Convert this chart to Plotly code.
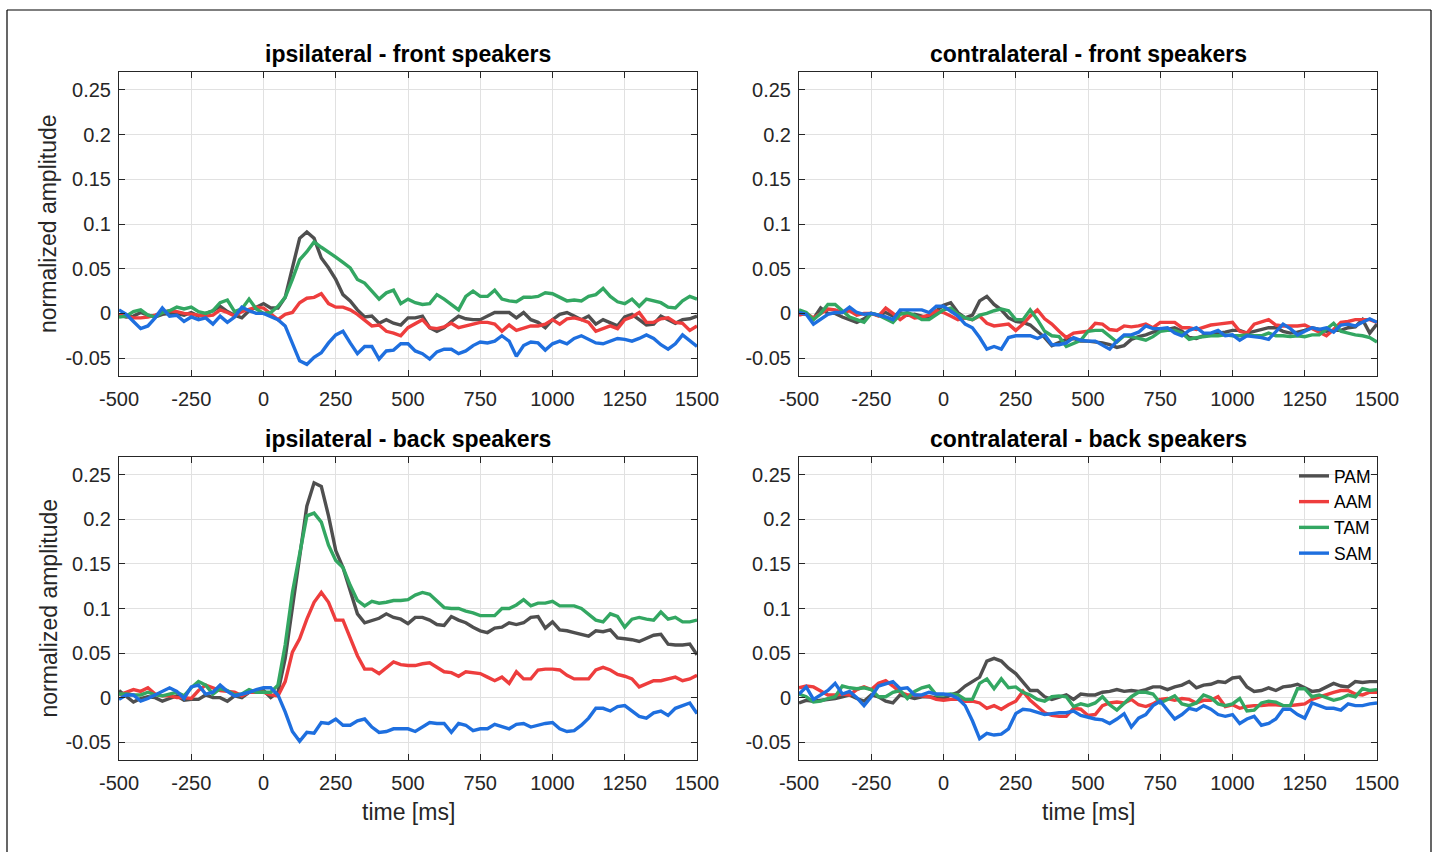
import plotly.graph_objects as go

W, H = 1436, 852

# time axis: -500 .. 1500 ms in 25 ms steps
t_ms = list(range(-500, 1501, 25))

conditions = ["PAM", "AAM", "TAM", "SAM"]
colors = {"PAM": "#4f4f4f", "AAM": "#ee3d3d", "TAM": "#33a762", "SAM": "#1e6fdf"}

panel_titles = [
    "ipsilateral - front speakers",
    "contralateral - front speakers",
    "ipsilateral - back speakers",
    "contralateral - back speakers",
]

# ipsilateral - front speakers
ipsi_front_PAM = [-0.002,-0.004,-0.003,0.001,-0.002,-0.004,-0.001,0,0,-0.002,0.001,-0.003,0,0.003,0.008,0.002,-0.002,-0.005,0.003,0.007,0.011,0.006,0.006,0.018,0.053,0.084,0.091,0.084,0.062,0.051,0.038,0.021,0.014,0.004,-0.004,-0.003,-0.011,-0.007,-0.011,-0.013,
                  -0.005,-0.005,-0.003,-0.016,-0.02,-0.016,-0.009,-0.003,-0.006,-0.007,-0.007,-0.003,0.001,0.001,0.001,-0.005,0.001,-0.007,-0.01,-0.016,-0.007,-0.001,0.001,-0.003,-0.007,-0.003,-0.012,-0.007,-0.01,-0.014,-0.004,-0.001,-0.007,-0.013,-0.012,-0.003,-0.007,-0.011,-0.007,-0.006,-0.003]
ipsi_front_AAM = [-0.002,-0.003,-0.005,-0.005,-0.004,-0.002,0.001,0.003,0.002,0,-0.001,-0.002,-0.003,-0.002,0.004,0.001,-0.003,0.002,0.005,0.007,0.006,0,-0.007,-0.001,0.001,0.012,0.017,0.018,0.022,0.011,0.007,0.007,0.004,-0.001,-0.007,-0.014,-0.013,-0.02,-0.022,-0.025,
                  -0.016,-0.011,-0.007,-0.016,-0.017,-0.015,-0.011,-0.016,-0.014,-0.012,-0.01,-0.01,-0.012,-0.02,-0.013,-0.019,-0.016,-0.014,-0.014,-0.012,-0.007,-0.012,-0.006,-0.005,-0.007,-0.01,-0.02,-0.017,-0.014,-0.017,-0.007,-0.004,0.001,-0.01,-0.01,-0.006,-0.005,-0.01,-0.011,-0.019,-0.014]
ipsi_front_TAM = [-0.004,-0.003,0.002,0.004,-0.002,-0.004,0.001,0.003,0.007,0.005,0.007,0.002,0,0.003,0.012,0.015,0.002,0.005,0.016,0.005,0,0.001,0.008,0.018,0.038,0.06,0.069,0.08,0.074,0.069,0.063,0.057,0.051,0.038,0.034,0.025,0.016,0.023,0.026,0.011,
                  0.016,0.012,0.010,0.011,0.021,0.016,0.010,0.004,0.019,0.025,0.019,0.019,0.026,0.016,0.014,0.013,0.018,0.018,0.019,0.023,0.022,0.018,0.014,0.015,0.014,0.019,0.021,0.028,0.019,0.013,0.011,0.016,0.008,0.016,0.014,0.012,0.007,0.006,0.014,0.019,0.016]
ipsi_front_SAM = [0.004,-0.001,-0.009,-0.017,-0.014,-0.005,0.006,-0.003,-0.002,-0.009,-0.004,-0.007,-0.005,-0.012,-0.003,-0.01,-0.004,0.007,0.003,0,0,-0.003,-0.007,-0.014,-0.033,-0.053,-0.057,-0.049,-0.044,-0.033,-0.024,-0.02,-0.033,-0.045,-0.037,-0.037,-0.051,-0.042,-0.041,-0.034,
                  -0.034,-0.042,-0.045,-0.051,-0.043,-0.04,-0.04,-0.045,-0.042,-0.036,-0.032,-0.033,-0.031,-0.025,-0.031,-0.048,-0.036,-0.032,-0.033,-0.041,-0.034,-0.031,-0.034,-0.028,-0.025,-0.029,-0.033,-0.034,-0.031,-0.028,-0.029,-0.031,-0.028,-0.024,-0.028,-0.035,-0.04,-0.034,-0.024,-0.03,-0.037]

# contralateral - front speakers
contra_front_PAM = [0,-0.001,-0.006,0.006,0,0,-0.004,-0.007,-0.01,-0.006,0,-0.002,0.001,-0.003,0.001,-0.002,-0.001,-0.003,-0.006,0.003,0.009,0.012,0.001,-0.005,-0.002,0.014,0.019,0.01,0.004,-0.005,-0.009,-0.01,-0.013,-0.02,-0.027,-0.036,-0.033,-0.029,-0.028,-0.031,
                    -0.031,-0.032,-0.033,-0.035,-0.038,-0.036,-0.029,-0.026,-0.024,-0.021,-0.019,-0.018,-0.016,-0.02,-0.027,-0.028,-0.025,-0.024,-0.022,-0.021,-0.019,-0.019,-0.022,-0.02,-0.018,-0.016,-0.016,-0.02,-0.022,-0.021,-0.019,-0.016,-0.018,-0.02,-0.019,-0.019,-0.016,-0.015,-0.007,-0.022,-0.012]
contra_front_AAM = [-0.002,0,-0.005,0,0.005,0.004,0.001,0.003,-0.002,0,0,-0.003,0.006,0,-0.007,-0.001,-0.005,-0.004,-0.002,0.003,0.001,-0.003,-0.007,-0.005,-0.007,-0.003,-0.011,-0.014,-0.013,-0.012,-0.019,-0.012,-0.003,0.004,-0.006,-0.012,-0.02,-0.027,-0.022,-0.021,
                    -0.02,-0.011,-0.012,-0.018,-0.019,-0.014,-0.015,-0.014,-0.012,-0.016,-0.01,-0.01,-0.01,-0.016,-0.016,-0.018,-0.015,-0.013,-0.012,-0.011,-0.01,-0.02,-0.022,-0.012,-0.009,-0.007,-0.013,-0.014,-0.014,-0.014,-0.013,-0.017,-0.022,-0.025,-0.018,-0.01,-0.009,-0.007,-0.007,-0.007,-0.01]
contra_front_TAM = [0.004,0.001,-0.007,0,0.01,0.01,0.003,-0.004,-0.007,-0.01,0,-0.002,-0.006,-0.01,-0.001,0.001,-0.002,-0.007,-0.007,-0.002,0.004,0.006,-0.001,-0.005,-0.007,-0.002,0,0.003,0.005,0.003,-0.007,-0.007,0.004,-0.007,-0.02,-0.025,-0.026,-0.037,-0.034,-0.03,
                    -0.02,-0.019,-0.019,-0.025,-0.032,-0.025,-0.026,-0.028,-0.03,-0.026,-0.02,-0.019,-0.019,-0.022,-0.029,-0.027,-0.026,-0.025,-0.025,-0.024,-0.025,-0.025,-0.024,-0.025,-0.025,-0.022,-0.025,-0.025,-0.026,-0.025,-0.026,-0.024,-0.024,-0.018,-0.011,-0.02,-0.022,-0.024,-0.025,-0.027,-0.032]
contra_front_SAM = [0.001,-0.001,-0.012,-0.006,-0.001,0.001,0.001,0.007,0.001,-0.001,0,-0.002,-0.004,-0.007,0.004,0.004,0.004,0.004,0.001,0.008,0.008,0.003,-0.003,-0.012,-0.016,-0.027,-0.04,-0.037,-0.04,-0.027,-0.025,-0.025,-0.025,-0.028,-0.024,-0.035,-0.035,-0.033,-0.027,-0.03,
                    -0.031,-0.031,-0.035,-0.04,-0.031,-0.024,-0.024,-0.021,-0.014,-0.017,-0.017,-0.016,-0.022,-0.025,-0.019,-0.016,-0.022,-0.022,-0.019,-0.025,-0.024,-0.03,-0.025,-0.026,-0.027,-0.029,-0.021,-0.012,-0.017,-0.024,-0.02,-0.016,-0.018,-0.016,-0.021,-0.013,-0.012,-0.014,-0.01,-0.006,-0.01]

# ipsilateral - back speakers
ipsi_back_PAM = [0.008,0.002,-0.005,-0.001,0.001,0,-0.004,-0.001,0.002,-0.003,-0.002,-0.002,0.003,0,0,-0.004,0.002,0,0.006,0.006,0.008,0,0.006,0.044,0.103,0.163,0.215,0.241,0.237,0.204,0.165,0.146,0.12,0.094,0.084,0.087,0.089,0.094,0.09,0.088,
                 0.083,0.09,0.09,0.087,0.082,0.081,0.091,0.087,0.084,0.079,0.075,0.073,0.078,0.079,0.084,0.082,0.084,0.09,0.091,0.078,0.085,0.076,0.075,0.073,0.071,0.069,0.075,0.074,0.076,0.067,0.066,0.065,0.063,0.067,0.07,0.071,0.06,0.059,0.059,0.06,0.048]
ipsi_back_AAM = [0.003,0.006,0.009,0.007,0.011,0.004,0.002,0.002,0,0,-0.001,0.008,0.014,0.011,0.008,0.007,0.006,0.002,0.006,0.006,0.006,0.003,0.002,0.018,0.051,0.066,0.088,0.107,0.118,0.107,0.087,0.087,0.066,0.047,0.032,0.032,0.027,0.033,0.04,0.037,
                 0.036,0.036,0.038,0.039,0.034,0.029,0.028,0.024,0.029,0.028,0.027,0.023,0.019,0.023,0.016,0.029,0.021,0.021,0.031,0.032,0.032,0.031,0.025,0.021,0.021,0.021,0.031,0.034,0.031,0.026,0.024,0.021,0.012,0.016,0.019,0.019,0.021,0.023,0.019,0.021,0.025]
ipsi_back_TAM = [0.004,0.004,0.003,0.003,0.006,0.003,0.002,0.004,0.006,0.002,0.011,0.018,0.014,0.004,0.01,0.008,0.003,0.004,0.009,0.006,0.006,0.006,0.014,0.059,0.118,0.163,0.204,0.207,0.197,0.171,0.154,0.146,0.126,0.109,0.103,0.108,0.106,0.107,0.109,0.109,
                 0.11,0.115,0.118,0.116,0.109,0.101,0.1,0.1,0.097,0.095,0.092,0.092,0.092,0.1,0.1,0.104,0.11,0.103,0.106,0.106,0.108,0.103,0.103,0.103,0.1,0.093,0.087,0.085,0.094,0.091,0.079,0.088,0.09,0.088,0.087,0.096,0.088,0.09,0.085,0.085,0.087]
ipsi_back_SAM = [-0.002,0.003,0.003,-0.004,-0.001,0.003,0.008,0.011,0.007,-0.001,0.012,0.014,0.004,0.006,0.014,0.007,0.002,0.004,0.006,0.009,0.011,0.011,0.003,-0.016,-0.038,-0.049,-0.039,-0.04,-0.028,-0.029,-0.024,-0.031,-0.031,-0.026,-0.024,-0.033,-0.039,-0.038,-0.035,-0.035,
                 -0.035,-0.038,-0.033,-0.028,-0.029,-0.029,-0.039,-0.029,-0.031,-0.037,-0.035,-0.035,-0.03,-0.033,-0.035,-0.03,-0.029,-0.033,-0.031,-0.029,-0.028,-0.035,-0.038,-0.037,-0.031,-0.023,-0.012,-0.012,-0.015,-0.01,-0.009,-0.015,-0.021,-0.023,-0.017,-0.015,-0.02,-0.012,-0.009,-0.006,-0.018]

# contralateral - back speakers
contra_back_PAM = [-0.006,-0.003,-0.004,-0.003,-0.002,-0.001,0.001,0.003,-0.001,-0.004,0.003,0.001,-0.004,-0.006,0.003,0.001,-0.001,0.001,0.001,0,-0.001,0.003,0.006,0.013,0.018,0.023,0.041,0.044,0.041,0.033,0.027,0.018,0.008,0.008,0.001,-0.002,0.001,0.003,-0.002,0.004,
                   0.003,0.003,0.006,0.007,0.009,0.007,0.008,0.007,0.009,0.012,0.012,0.009,0.012,0.014,0.018,0.011,0.014,0.015,0.018,0.017,0.022,0.023,0.012,0.007,0.008,0.011,0.008,0.012,0.013,0.015,0.011,0.007,0.008,0.012,0.016,0.013,0.012,0.018,0.017,0.018,0.018]
contra_back_AAM = [0.011,0.013,0.012,0.007,0.003,0.003,0.004,0.003,0.009,0.012,0.009,0.016,0.019,0.013,0.006,0.003,0.003,0.002,0.001,-0.002,-0.003,-0.002,-0.002,-0.004,-0.004,-0.006,-0.012,-0.009,-0.013,-0.008,-0.004,0.007,-0.003,-0.01,-0.017,-0.02,-0.021,-0.021,-0.012,-0.013,
                   -0.02,-0.019,-0.009,-0.006,-0.005,-0.006,-0.002,-0.008,-0.01,-0.007,-0.002,-0.001,-0.003,-0.001,-0.002,-0.006,-0.003,-0.003,0.001,-0.01,-0.008,-0.012,-0.01,-0.009,-0.009,-0.008,-0.008,-0.009,-0.009,-0.008,-0.007,-0.002,0.001,0.004,0.006,0.008,0.008,0.004,0.003,0.006,0.006]
contra_back_TAM = [0.004,0.001,-0.005,-0.004,-0.001,0.001,0.013,0.011,0.01,0.011,0.009,0.001,0.001,0.006,0.008,-0.001,0.007,0.011,0.013,0.003,0.003,0.004,0.003,-0.002,-0.002,0.016,0.021,0.01,0.021,0.011,0.012,0.006,0.003,-0.002,-0.004,0.001,0.002,0.001,-0.01,-0.007,
                   -0.009,-0.006,0.001,-0.008,-0.014,-0.006,0.001,0.006,0.006,0.004,-0.006,-0.002,0.002,-0.007,-0.009,-0.006,0.003,0,-0.007,-0.009,-0.007,-0.001,-0.015,-0.014,-0.006,-0.004,-0.005,-0.009,-0.009,0.01,0.01,0.001,0.003,0,-0.003,-0.001,0.003,0.001,0.01,0.008,0.009]
contra_back_SAM = [0.004,0.012,-0.002,0.003,0.008,0.016,0.004,0.007,0,-0.009,0.001,0.013,0.016,0.018,0.01,0.011,0.003,0.003,0.006,0.004,0.004,0.003,-0.001,-0.009,-0.026,-0.046,-0.04,-0.042,-0.041,-0.035,-0.018,-0.013,-0.014,-0.017,-0.019,-0.018,-0.017,-0.017,-0.015,-0.02,
                   -0.022,-0.024,-0.025,-0.029,-0.024,-0.018,-0.033,-0.023,-0.019,-0.009,-0.004,-0.014,-0.024,-0.019,-0.012,-0.014,-0.009,-0.013,-0.019,-0.021,-0.019,-0.029,-0.024,-0.021,-0.031,-0.029,-0.024,-0.013,-0.013,-0.019,-0.023,-0.006,-0.009,-0.012,-0.012,-0.014,-0.007,-0.009,-0.009,-0.007,-0.006]

panels = [
    {"PAM": ipsi_front_PAM, "AAM": ipsi_front_AAM, "TAM": ipsi_front_TAM, "SAM": ipsi_front_SAM},
    {"PAM": contra_front_PAM, "AAM": contra_front_AAM, "TAM": contra_front_TAM, "SAM": contra_front_SAM},
    {"PAM": ipsi_back_PAM, "AAM": ipsi_back_AAM, "TAM": ipsi_back_TAM, "SAM": ipsi_back_SAM},
    {"PAM": contra_back_PAM, "AAM": contra_back_AAM, "TAM": contra_back_TAM, "SAM": contra_back_SAM},
]

x_ticks = [-500, -250, 0, 250, 500, 750, 1000, 1250, 1500]
x_tick_text = ["-500", "-250", "0", "250", "500", "750", "1000", "1250", "1500"]
y_ticks = [-0.05, 0, 0.05, 0.1, 0.15, 0.2, 0.25]
y_tick_text = ["-0.05", "0", "0.05", "0.1", "0.15", "0.2", "0.25"]

# panel boxes in pixels (left, right, top, bottom)
col_px = [(119, 697), (799, 1377)]
row_px = [(72, 376), (457, 760)]

FONT = "Liberation Sans, Arial, Helvetica, sans-serif"
AX = "#262626"

fig = go.Figure()
layout = {}
annotations = []

for k, series in enumerate(panels):
    r, c = divmod(k, 2)
    n = k + 1
    xa = "x" if n == 1 else f"x{n}"
    ya = "y" if n == 1 else f"y{n}"
    for cond in conditions:
        fig.add_trace(go.Scatter(
            x=t_ms, y=series[cond], mode="lines", name=cond,
            line=dict(color=colors[cond], width=3.4),
            xaxis=xa, yaxis=ya,
            legendgroup=cond, showlegend=(k == 3),
        ))
    x0, x1 = col_px[c]
    y0, y1 = row_px[r]
    common = dict(
        showline=True, linecolor=AX, linewidth=1, mirror="ticks",
        ticks="inside", ticklen=6, tickcolor=AX, tickwidth=1,
        showgrid=True, gridcolor="#e1e1e1", gridwidth=1, zeroline=False,
        tickfont=dict(family=FONT, size=20, color=AX), automargin=False,
    )
    layout["xaxis" if n == 1 else f"xaxis{n}"] = dict(
        common, domain=[x0 / W, x1 / W], range=[-500, 1500],
        tickvals=x_ticks, ticktext=x_tick_text, anchor=ya,
        ticklabelstandoff=5,
    )
    layout["yaxis" if n == 1 else f"yaxis{n}"] = dict(
        common, domain=[1 - y1 / H, 1 - y0 / H], range=[-0.07, 0.27],
        tickvals=y_ticks, ticktext=y_tick_text, anchor=xa,
        ticklabelstandoff=3,
    )
    annotations.append(dict(
        text=f"<b>{panel_titles[k]}</b>", xref="paper", yref="paper",
        x=(x0 + x1) / 2 / W, y=1 - y0 / H, xanchor="center", yanchor="bottom",
        yshift=3, showarrow=False, font=dict(family=FONT, size=23, color="#000000"),
    ))
    if c == 0:
        annotations.append(dict(
            text="normalized amplitude", xref="paper", yref="paper",
            x=48 / W, y=1 - (y0 + y1) / 2 / H, xanchor="center", yanchor="middle",
            textangle=-90, showarrow=False, font=dict(family=FONT, size=23, color=AX),
        ))
    if r == 1:
        annotations.append(dict(
            text="time [ms]", xref="paper", yref="paper",
            x=(x0 + x1) / 2 / W, y=1 - 812 / H, xanchor="center", yanchor="middle",
            showarrow=False, font=dict(family=FONT, size=23, color=AX),
        ))

# thin outer frame
frame = [
    dict(x0=7 / W, x1=7 / W, y0=1 - 10 / H, y1=-0.02),
    dict(x0=7 / W, x1=1431 / W, y0=1 - 10 / H, y1=1 - 10 / H),
    dict(x0=1431 / W, x1=1431 / W, y0=1 - 10 / H, y1=-0.02),
]
shapes = [dict(type="line", xref="paper", yref="paper", line=dict(color="#000000", width=1.2), **f) for f in frame]

fig.update_layout(
    width=W, height=H, margin=dict(l=0, r=0, t=0, b=0, autoexpand=False),
    paper_bgcolor="white", plot_bgcolor="white",
    annotations=annotations, shapes=shapes,
    legend=dict(
        x=1377 / W, y=1 - 458 / H, xanchor="right", yanchor="top",
        bgcolor="rgba(0,0,0,0)", borderwidth=0,
        font=dict(family=FONT, size=17.5, color="#000000"),
        itemwidth=30, tracegroupgap=0,
    ),
    **layout,
)

fig.write_html("out.html")
